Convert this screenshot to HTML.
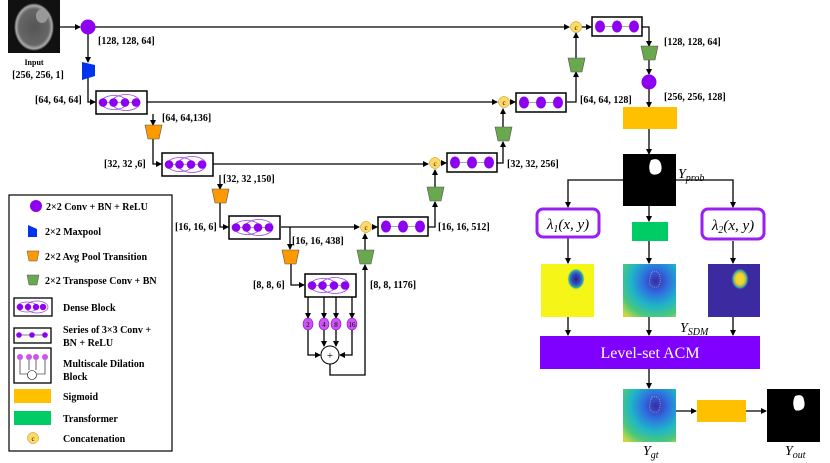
<!DOCTYPE html>
<html><head><meta charset="utf-8"><style>
html,body{margin:0;padding:0;background:#fff;}
svg{display:block;}
text{font-family:"Liberation Serif",serif;font-weight:bold;font-size:10px;fill:#000;}
.it{font-style:italic;font-weight:normal;font-size:14px;}
</style></head><body>
<svg width="830" height="463" viewBox="0 0 830 463" xmlns="http://www.w3.org/2000/svg">
<defs>
<marker id="ar" markerWidth="6" markerHeight="6" refX="5" refY="3" orient="auto" markerUnits="userSpaceOnUse"><path d="M0,0 L6,3 L0,6 z" fill="#000"/></marker>
<radialGradient id="brain" cx="0.5" cy="0.5" r="0.5"><stop offset="0" stop-color="#555"/><stop offset="0.75" stop-color="#666"/><stop offset="0.9" stop-color="#aaa"/><stop offset="1" stop-color="#111"/></radialGradient>
<radialGradient id="sdm" cx="0.62" cy="0.32" r="0.95"><stop offset="0" stop-color="#3b2aa8"/><stop offset="0.25" stop-color="#2f6fe0"/><stop offset="0.5" stop-color="#1fb5c8"/><stop offset="0.72" stop-color="#4cc87a"/><stop offset="0.9" stop-color="#c8d840"/><stop offset="1" stop-color="#f5c030"/></radialGradient>
<radialGradient id="blobB" cx="0.5" cy="0.5" r="0.5"><stop offset="0" stop-color="#2b1f8a"/><stop offset="0.5" stop-color="#3050c0"/><stop offset="0.8" stop-color="#30b0a0"/><stop offset="1" stop-color="#f5f518" stop-opacity="0"/></radialGradient>
<radialGradient id="blobY" cx="0.5" cy="0.5" r="0.5"><stop offset="0" stop-color="#f8e020"/><stop offset="0.5" stop-color="#f0d030"/><stop offset="0.8" stop-color="#40a0a0"/><stop offset="1" stop-color="#3c2aa0" stop-opacity="0"/></radialGradient>
<g id="dense">
<rect x="0" y="0" width="51" height="23" fill="#fff" stroke="#000" stroke-width="1.5"/>
<ellipse cx="18" cy="11.5" rx="13" ry="7" fill="none" stroke="#a040e0" stroke-width="0.8"/>
<ellipse cx="30" cy="11.5" rx="14" ry="8" fill="none" stroke="#a040e0" stroke-width="0.8"/>
<line x1="7" y1="11.5" x2="40" y2="11.5" stroke="#888" stroke-width="0.8"/>
<circle cx="7" cy="11.5" r="4.3" fill="#8e00f0"/><circle cx="17.5" cy="11.5" r="4.3" fill="#8e00f0"/><circle cx="29" cy="11.5" r="4.3" fill="#8e00f0"/><circle cx="40" cy="11.5" r="4.3" fill="#8e00f0"/>
</g>
<g id="series">
<rect x="0" y="0" width="50" height="19" fill="#fff" stroke="#000" stroke-width="1.5"/>
<line x1="8" y1="9.5" x2="42" y2="9.5" stroke="#888" stroke-width="0.8"/>
<ellipse cx="8" cy="9.5" rx="5" ry="6" fill="#8e00f0"/><ellipse cx="25" cy="9.5" rx="5" ry="6" fill="#8e00f0"/><ellipse cx="42" cy="9.5" rx="5" ry="6" fill="#8e00f0"/>
</g>
<path id="avg" d="M0,0 L17,0 L14,14 L3,14 z" fill="#ff9900" stroke="#555" stroke-width="0.6"/>
<path id="tr" d="M0,0 L17,0 L14,14 L3,14 z" fill="#6aa84f" stroke="#555" stroke-width="0.6"/>
<g id="cc"><circle cx="0" cy="0" r="5.5" fill="#ffd966" stroke="#b8860b" stroke-width="0.5"/><text x="0" y="3" text-anchor="middle" style="font-weight:normal;font-size:7px">c</text></g>
</defs>

<!-- input -->
<rect x="8" y="0" width="52" height="53" fill="#111"/>
<ellipse cx="34" cy="27" rx="20" ry="24" fill="url(#brain)"/>
<ellipse cx="42" cy="16" rx="6" ry="7" fill="#999"/>
<text x="34" y="65" text-anchor="middle" style="font-size:8px">Input</text>
<text x="38" y="78" text-anchor="middle">[256, 256, 1]</text>

<g stroke="#000" stroke-width="1.3" fill="none">
<line x1="60" y1="27" x2="80" y2="27" marker-end="url(#ar)"/>
<line x1="95" y1="27" x2="569" y2="27" marker-end="url(#ar)"/>
<line x1="88" y1="34" x2="88" y2="62" marker-end="url(#ar)"/>
<polyline points="88,78 88,102 95,102" marker-end="url(#ar)"/>
<line x1="147" y1="102" x2="497" y2="102" marker-end="url(#ar)"/>
<line x1="153" y1="114" x2="153" y2="125" marker-end="url(#ar)"/>
<polyline points="153,139 153,164 161,164" marker-end="url(#ar)"/>
<line x1="212" y1="164" x2="428" y2="164" marker-end="url(#ar)"/>
<line x1="220" y1="175" x2="220" y2="189" marker-end="url(#ar)"/>
<polyline points="220,203 220,227 228,227" marker-end="url(#ar)"/>
<line x1="281" y1="227" x2="359" y2="227" marker-end="url(#ar)"/>
<line x1="290" y1="227" x2="290" y2="249" marker-end="url(#ar)"/>
<polyline points="291,264 291,285 304,285" marker-end="url(#ar)"/>
<line x1="308" y1="297" x2="308" y2="318" marker-end="url(#ar)"/>
<line x1="324" y1="297" x2="324" y2="318" marker-end="url(#ar)"/>
<line x1="336" y1="297" x2="336" y2="318" marker-end="url(#ar)"/>
<line x1="352" y1="297" x2="352" y2="318" marker-end="url(#ar)"/>
<polyline points="308,330 308,355 320,355" marker-end="url(#ar)"/>
<line x1="324" y1="330" x2="324" y2="346" marker-end="url(#ar)"/>
<line x1="336" y1="330" x2="336" y2="346" marker-end="url(#ar)"/>
<polyline points="352,330 352,355 340,355" marker-end="url(#ar)"/>
<polyline points="330,364 330,375 365,375 365,265" marker-end="url(#ar)"/>
<line x1="365" y1="250" x2="365" y2="234" marker-end="url(#ar)"/>
<line x1="372" y1="227" x2="377" y2="227" marker-end="url(#ar)"/>
<polyline points="428,227 435,227 435,202" marker-end="url(#ar)"/>
<line x1="435" y1="187" x2="435" y2="170" marker-end="url(#ar)"/>
<line x1="441" y1="163" x2="446" y2="163" marker-end="url(#ar)"/>
<polyline points="497,163 503,163 503,142" marker-end="url(#ar)"/>
<line x1="503" y1="127" x2="503" y2="109" marker-end="url(#ar)"/>
<line x1="510" y1="102" x2="515" y2="102" marker-end="url(#ar)"/>
<polyline points="567,102 576,102 576,72" marker-end="url(#ar)"/>
<line x1="576" y1="58" x2="576" y2="33" marker-end="url(#ar)"/>
<line x1="582" y1="27" x2="591" y2="27" marker-end="url(#ar)"/>
<polyline points="642,27 649,27 649,46" marker-end="url(#ar)"/>
<line x1="649" y1="60" x2="649" y2="74" marker-end="url(#ar)"/>
<line x1="649" y1="89" x2="649" y2="107" marker-end="url(#ar)"/>
<line x1="649" y1="129" x2="649" y2="154" marker-end="url(#ar)"/>
<polyline points="623,180 568,180 568,207" marker-end="url(#ar)"/>
<polyline points="676,180 733,180 733,207" marker-end="url(#ar)"/>
<line x1="649" y1="206" x2="649" y2="221" marker-end="url(#ar)"/>
<line x1="568" y1="238" x2="568" y2="263" marker-end="url(#ar)"/>
<line x1="649" y1="241" x2="649" y2="263" marker-end="url(#ar)"/>
<line x1="733" y1="241" x2="733" y2="263" marker-end="url(#ar)"/>
<line x1="568" y1="317" x2="568" y2="335" marker-end="url(#ar)"/>
<line x1="649" y1="317" x2="649" y2="335" marker-end="url(#ar)"/>
<line x1="733" y1="317" x2="733" y2="335" marker-end="url(#ar)"/>
<line x1="649" y1="369" x2="649" y2="388" marker-end="url(#ar)"/>
<line x1="676" y1="411" x2="696" y2="411" marker-end="url(#ar)"/>
<line x1="746" y1="411" x2="766" y2="411" marker-end="url(#ar)"/>
</g>

<circle cx="88" cy="27" r="7.5" fill="#8e00f0"/>
<path d="M82,62 L95,65 L95,76 L82,80 z" fill="#0033ee"/>
<use href="#dense" x="96" y="91"/>
<use href="#dense" x="162" y="153"/>
<use href="#dense" x="229" y="216"/>
<use href="#dense" x="305" y="274"/>
<use href="#avg" x="145" y="125"/>
<use href="#avg" x="212" y="189"/>
<use href="#avg" x="282" y="250"/>
<use href="#tr" x="357" y="250"/>
<use href="#tr" x="427" y="187"/>
<use href="#tr" x="495" y="127"/>
<use href="#tr" x="568" y="58"/>
<use href="#tr" x="641" y="46"/>
<use href="#series" x="378" y="217"/>
<use href="#series" x="447" y="153"/>
<use href="#series" x="516" y="93"/>
<use href="#series" x="592" y="17"/>
<use href="#cc" x="366" y="227"/>
<use href="#cc" x="435" y="163"/>
<use href="#cc" x="504" y="102"/>
<use href="#cc" x="576" y="27"/>
<circle cx="649" cy="82" r="7.5" fill="#8e00f0"/>

<ellipse cx="308" cy="324" rx="5" ry="6" fill="#cc55ee" stroke="#8e00f0" stroke-width="0.6"/>
<ellipse cx="324" cy="324" rx="5" ry="6" fill="#cc55ee" stroke="#8e00f0" stroke-width="0.6"/>
<ellipse cx="336" cy="324" rx="5" ry="6" fill="#cc55ee" stroke="#8e00f0" stroke-width="0.6"/>
<ellipse cx="352" cy="324" rx="5" ry="6" fill="#cc55ee" stroke="#8e00f0" stroke-width="0.6"/>
<text x="308" y="327" text-anchor="middle" style="font-weight:normal;font-size:7px">2</text>
<text x="324" y="327" text-anchor="middle" style="font-weight:normal;font-size:7px">4</text>
<text x="336" y="327" text-anchor="middle" style="font-weight:normal;font-size:7px">8</text>
<text x="352" y="327" text-anchor="middle" style="font-weight:normal;font-size:7px">16</text>
<circle cx="330" cy="355" r="9" fill="#fff" stroke="#000" stroke-width="1"/>
<text x="330" y="359" text-anchor="middle" style="font-weight:normal;font-size:11px">+</text>

<text x="98" y="44">[128, 128, 64]</text>
<text x="35" y="103">[64, 64, 64]</text>
<text x="162" y="121">[64, 64,136]</text>
<text x="104" y="167">[32, 32 ,6]</text>
<text x="223" y="182">[32, 32 ,150]</text>
<text x="175" y="230">[16, 16, 6]</text>
<text x="292" y="244">[16, 16, 438]</text>
<text x="253" y="288">[8, 8, 6]</text>
<text x="370" y="288">[8, 8, 1176]</text>
<text x="438" y="230">[16, 16, 512]</text>
<text x="507" y="167">[32, 32, 256]</text>
<text x="580" y="103">[64, 64, 128]</text>
<text x="664" y="45">[128, 128, 64]</text>
<text x="664" y="100">[256, 256, 128]</text>

<!-- right branch -->
<rect x="623" y="107" width="54" height="22" fill="#ffc000"/>
<rect x="623" y="154" width="53" height="52" fill="#000"/>
<path d="M651,160 q8,-3 10,4 q2,8 -3,10 q-6,2 -8,-2 q-2,-6 1,-12z" fill="#fff"/>
<text x="678" y="178" class="it">Y<tspan font-size="10" dy="3">prob</tspan></text>
<rect x="537" y="209" width="62" height="28" rx="6" fill="#fff" stroke="#9b1ff0" stroke-width="3"/>
<text x="568" y="229" text-anchor="middle" class="it" style="font-size:15px">λ<tspan font-size="10" dy="3">1</tspan><tspan dy="-3">(x, y)</tspan></text>
<rect x="702" y="209" width="62" height="30" rx="6" fill="#fff" stroke="#9b1ff0" stroke-width="3"/>
<text x="733" y="230" text-anchor="middle" class="it" style="font-size:15px">λ<tspan font-size="10" dy="3">2</tspan><tspan dy="-3">(x, y)</tspan></text>
<rect x="632" y="222" width="36" height="19" fill="#00cc66"/>
<rect x="541" y="264" width="53" height="53" fill="#f5f518"/>
<ellipse cx="576" cy="279" rx="9" ry="11" fill="url(#blobB)"/>
<rect x="623" y="264" width="53" height="53" fill="url(#sdm)"/>
<path d="M652,272 q7,-2 8,5 q1,8 -3,10 q-6,1 -7,-3 q-1,-6 2,-12z" fill="none" stroke="#bbb" stroke-width="0.6" stroke-dasharray="1,1"/>
<rect x="708" y="264" width="52" height="53" fill="#3c2aa0"/>
<ellipse cx="740" cy="279" rx="9" ry="11" fill="url(#blobY)"/>
<text x="680" y="332" class="it">Y<tspan font-size="10" dy="3">SDM</tspan></text>
<rect x="540" y="336" width="220" height="33" fill="#7f00ff"/>
<text x="650" y="358" text-anchor="middle" style="font-weight:normal;font-size:16px;fill:#fff">Level-set ACM</text>
<rect x="623" y="389" width="53" height="53" fill="url(#sdm)"/>
<path d="M652,397 q7,-2 8,5 q1,8 -3,10 q-6,1 -7,-3 q-1,-6 2,-12z" fill="none" stroke="#bbb" stroke-width="0.6" stroke-dasharray="1,1"/>
<rect x="697" y="400" width="49" height="22" fill="#ffc000"/>
<rect x="767" y="389" width="53" height="53" fill="#000"/>
<path d="M795,396 q8,-3 9,4 q2,8 -3,10 q-6,2 -7,-2 q-2,-6 1,-12z" fill="#fff"/>
<text x="643" y="455" class="it">Y<tspan font-size="10" dy="3">gt</tspan></text>
<text x="785" y="455" class="it">Y<tspan font-size="10" dy="3">out</tspan></text>

<!-- legend -->
<rect x="9" y="195" width="163" height="256" fill="#fff" stroke="#000" stroke-width="1.2"/>
<circle cx="36" cy="206" r="6" fill="#8e00f0"/>
<text x="46" y="210">2×2 Conv + BN + ReLU</text>
<path d="M28,225 L37,229 L37,237 L28,237 z" fill="#0033ee"/>
<text x="45" y="235">2×2 Maxpool</text>
<path d="M27,251 L39,251 L37,261 L29,261 z" fill="#ff9900" stroke="#555" stroke-width="0.5"/>
<text x="45" y="260">2×2 Avg Pool Transition</text>
<path d="M27,275 L39,275 L37,285 L29,285 z" fill="#6aa84f" stroke="#555" stroke-width="0.5"/>
<text x="45" y="284">2×2 Transpose Conv + BN</text>
<rect x="14" y="298" width="38" height="18" fill="#fff" stroke="#000" stroke-width="1.3"/>
<ellipse cx="27" cy="307" rx="10" ry="5" fill="none" stroke="#a040e0" stroke-width="0.7"/>
<ellipse cx="37" cy="307" rx="11" ry="6" fill="none" stroke="#a040e0" stroke-width="0.7"/>
<circle cx="20" cy="307" r="3.2" fill="#8e00f0"/><circle cx="28" cy="307" r="3.2" fill="#8e00f0"/><circle cx="36" cy="307" r="3.2" fill="#8e00f0"/><circle cx="43" cy="307" r="3.2" fill="#8e00f0"/>
<text x="63" y="311">Dense Block</text>
<rect x="14" y="328" width="37" height="15" fill="#fff" stroke="#000" stroke-width="1.3"/>
<line x1="19" y1="335" x2="45" y2="335" stroke="#555" stroke-width="0.7"/>
<circle cx="19" cy="335" r="2.8" fill="#8e00f0"/><circle cx="32" cy="335" r="2.8" fill="#8e00f0"/><circle cx="45" cy="335" r="2.8" fill="#8e00f0"/>
<text x="63" y="333">Series of 3×3 Conv +</text>
<text x="63" y="346">BN + ReLU</text>
<rect x="14" y="348" width="37" height="35" fill="#fff" stroke="#000" stroke-width="1.3"/>
<g fill="#cc55ee"><circle cx="20" cy="357" r="3"/><circle cx="29" cy="357" r="3"/><circle cx="36" cy="357" r="3"/><circle cx="45" cy="357" r="3"/></g>
<g stroke="#000" stroke-width="0.6" fill="none"><polyline points="20,360 20,374 28,374"/><polyline points="45,360 45,374 37,374"/><line x1="29" y1="360" x2="29" y2="370"/><line x1="36" y1="360" x2="36" y2="370"/></g>
<circle cx="32" cy="375" r="4.5" fill="#fff" stroke="#000" stroke-width="0.6"/>
<text x="63" y="367">Multiscale Dilation</text>
<text x="63" y="380">Block</text>
<rect x="14" y="389" width="37" height="14" fill="#ffc000"/>
<text x="63" y="400">Sigmoid</text>
<rect x="14" y="411" width="37" height="14" fill="#00cc66"/>
<text x="63" y="422">Transformer</text>
<use href="#cc" x="33" y="438"/>
<text x="63" y="442">Concatenation</text>
</svg>
</body></html>
